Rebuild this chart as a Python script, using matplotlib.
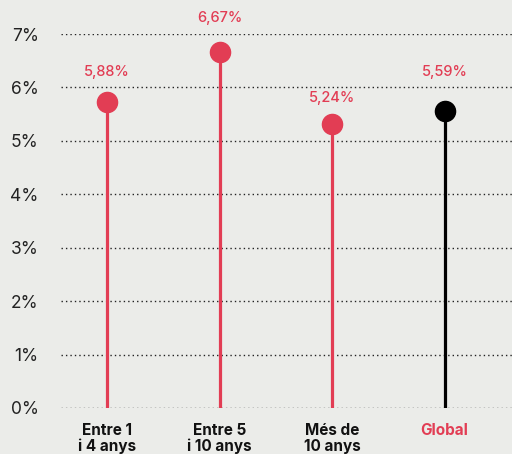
import matplotlib.pyplot as plt
import numpy as np

# dades
categories = ['Entre 1\ni 4 anys', 'Entre 5\ni 10 anys', 'Més de\n10 anys', 'Global']
values = [5.72, 6.66, 5.31, 5.56]          # posició dels punts (llegida del gràfic)
labels = ['5,88%', '6,67%', '5,24%', '5,59%']
label_offsets = [30, 34, 26, 39]           # px sobre el punt
colors = ['#E23D54', '#E23D54', '#E23D54', '#000000']
yticks = [0, 1, 2, 3, 4, 5, 6, 7]

bg = '#EBECE9'
red = '#E23D54'
plt.rcParams['font.family'] = ['Inter', 'DejaVu Sans']

fig = plt.figure(figsize=(5.12, 4.54), dpi=100, facecolor=bg)
ax = fig.add_axes([61/512, 46/454, 451/512, 374/454], facecolor=bg)

x = np.arange(len(categories))
for xi, v, c, lab, off in zip(x, values, colors, labels, label_offsets):
    ax.plot([xi, xi], [0, v], color=c, lw=2.3, solid_capstyle='butt', zorder=3)
    ax.plot(xi, v, 'o', ms=14.5, color=c, zorder=4, clip_on=False)
    ax.annotate(lab, (xi, v), xytext=(0, off * 0.72), textcoords='offset points',
                ha='center', va='center', color=red, fontsize=10.5,
                fontweight='medium', clip_on=False)

ax.set_xlim(-0.41, 3.6)
ax.set_ylim(0, 7)
ax.set_yticks(yticks)
ax.set_yticklabels([f'{t}%' for t in yticks], fontsize=12.5, color='#222222')
ax.yaxis.grid(True, linestyle=(0, (1, 2.2)), color='#222222', lw=1)
ax.set_axisbelow(True)
ax.tick_params(axis='y', length=0, pad=16)
ax.tick_params(axis='x', length=0, pad=11)
ax.set_xticks(x)
ax.set_xticklabels(categories, fontsize=11, fontweight='bold', linespacing=1.05,
                   color='#111111')
ax.get_xticklabels()[-1].set_color(red)
for s in ax.spines.values():
    s.set_visible(False)

fig.savefig('out.png', dpi=100, facecolor=bg)
